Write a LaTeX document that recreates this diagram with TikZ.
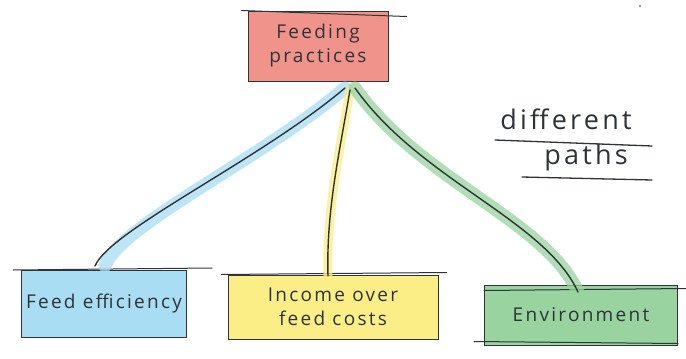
\documentclass[tikz,border=0pt]{standalone}
\usepackage{fontspec}
\setmainfont{Open Sans}
\newfontfamily\handfont[LetterSpace=12]{Open Sans}
\definecolor{redfill}{HTML}{F0938A}
\definecolor{bluefill}{HTML}{A9DDF3}
\definecolor{yellowfill}{HTML}{FBEE86}
\definecolor{greenfill}{HTML}{98D3A0}
\definecolor{ink}{HTML}{2E3338}
\begin{document}
\begin{tikzpicture}[x=1pt,y=-1pt,
  box/.style={rectangle, draw=ink, line width=1pt, inner sep=2pt, align=center,
    font=\handfont\fontsize{19}{24}\selectfont\color{ink}},
  note/.style={font=\handfont\fontsize{27}{32}\selectfont\color{ink}},
  conn/.style={draw=ink, line width=1.4pt, line cap=round},
  glow/.style={line width=13pt, line cap=round, opacity=0.75},
  sketch/.style={draw=ink, line width=1pt, line cap=round}]
\useasboundingbox (0,0) rectangle (686,359);
\fill[white] (0,0) rectangle (686,359);

% boxes
\node[box, fill=redfill, minimum width=140pt, minimum height=70pt] (top) at (318,46) {Feeding\\practices};
\node[box, fill=bluefill, minimum width=165pt, minimum height=67pt] (fe) at (104,304) {Feed efficiency};
\node[box, fill=yellowfill, minimum width=210pt, minimum height=64pt] (ioc) at (333,307) {Income over\\feed costs};
\node[box, fill=greenfill, minimum width=193pt, minimum height=60pt] (env) at (581,315) {Environment};

% sketchy overshoot strokes
\draw[sketch] ([xshift=-6pt]top.north west) -- ([xshift=18pt,yshift=-6pt]top.north east);
\draw[sketch] ([xshift=-8pt]fe.north west) -- ([xshift=25pt,yshift=2pt]fe.north east);
\draw[sketch] ([xshift=-6pt]ioc.north west) -- ([xshift=8pt,yshift=2pt]ioc.north east);
\draw[sketch] ([xshift=-10pt,yshift=4pt]env.south west) -- ([yshift=2pt]env.south east);
\draw[sketch] ([yshift=-6pt]env.north west) -- ([xshift=8pt,yshift=-4pt]env.north east);

% connector anchors
\coordinate (s1) at (345,88);
\coordinate (s2) at (350,90);
\coordinate (s3) at (355,88);
\coordinate (e1) at (95,266);
\coordinate (e2) at (328,276);
\coordinate (e3) at (578,292);

% highlights
\draw[glow, draw=bluefill] (s1) .. controls (260,160) and (120,225) .. ([xshift=10pt]e1);
\draw[glow, draw=yellowfill, line width=9pt] (s2) .. controls (340,150) and (326,210) .. (e2);
\draw[glow, draw=greenfill] (s3) .. controls (420,180) and (545,220) .. (e3);

% connectors
\draw[conn] (s1) .. controls (260,160) and (110,230) .. (e1);
\draw[conn] (s2) .. controls (340,150) and (326,210) .. (e2);
\draw[conn] (s3) .. controls (420,180) and (545,220) .. (e3);

% side note
\node[note] (diff) at (566,119) {different};
\node[note] (paths) at (586,157) {paths};
\draw[sketch, line width=1.3pt] (495,140) -- (652,146);
\draw[sketch, line width=1.3pt] (522,177) -- (652,180);

\fill[ink] (640,6) circle (0.9pt);
\end{tikzpicture}
\end{document}
